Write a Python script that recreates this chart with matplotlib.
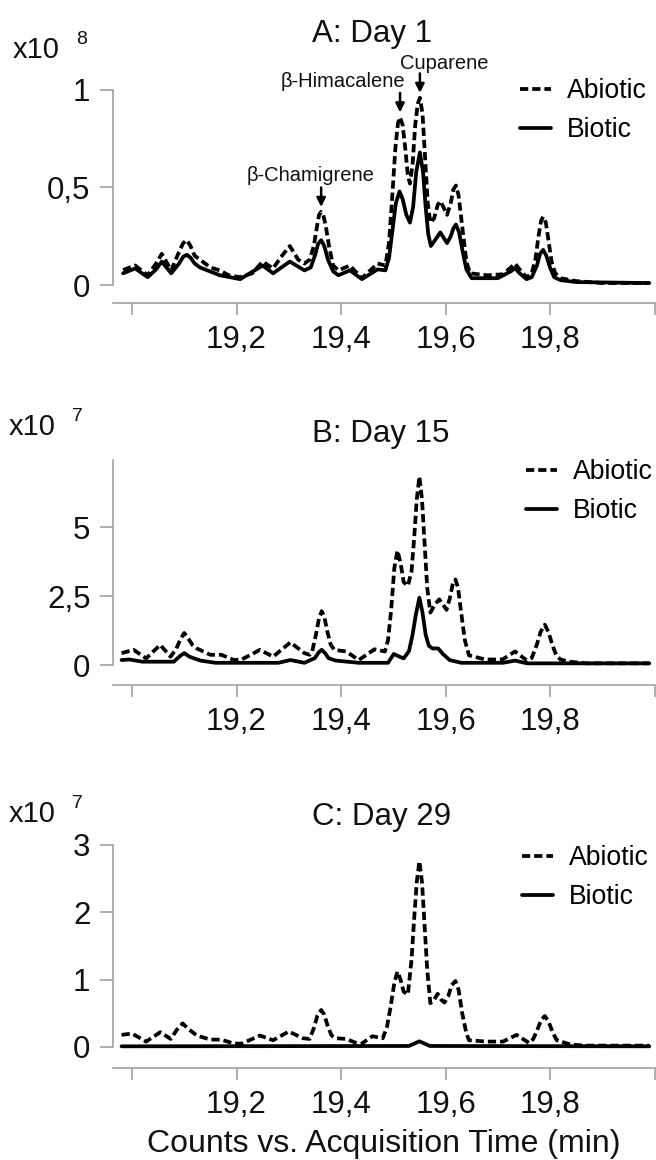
import matplotlib
matplotlib.use("Agg")
import matplotlib.pyplot as plt

plt.rcParams['font.family'] = ['Liberation Sans', 'DejaVu Sans']

# ---------------- data (retention time [min], counts in panel units) ----------------
A_abiotic = [(18.983, 0.077), (19.006, 0.10), (19.03, 0.05), (19.046, 0.11), (19.057, 0.16),
             (19.075, 0.075), (19.09, 0.17), (19.098, 0.215), (19.105, 0.23), (19.112, 0.2),
             (19.12, 0.15), (19.13, 0.13), (19.15, 0.09), (19.168, 0.075), (19.185, 0.05),
             (19.207, 0.04), (19.23, 0.06), (19.25, 0.12), (19.27, 0.085), (19.287, 0.15),
             (19.302, 0.20), (19.318, 0.13), (19.33, 0.11), (19.34, 0.13), (19.348, 0.20),
             (19.354, 0.30), (19.358, 0.36), (19.362, 0.375), (19.366, 0.36), (19.371, 0.30),
             (19.377, 0.20), (19.385, 0.10), (19.395, 0.075), (19.417, 0.10), (19.44, 0.035),
             (19.47, 0.11), (19.485, 0.10), (19.492, 0.22), (19.498, 0.45), (19.504, 0.70),
             (19.509, 0.83), (19.513, 0.86), (19.518, 0.82), (19.523, 0.70), (19.528, 0.56),
             (19.532, 0.52), (19.537, 0.62), (19.542, 0.82), (19.547, 0.93), (19.551, 0.96),
             (19.556, 0.88), (19.561, 0.65), (19.566, 0.42), (19.571, 0.32), (19.578, 0.34),
             (19.585, 0.41), (19.59, 0.43), (19.596, 0.40), (19.603, 0.36), (19.61, 0.42),
             (19.615, 0.49), (19.62, 0.51), (19.625, 0.46), (19.632, 0.30), (19.64, 0.12),
             (19.647, 0.06), (19.68, 0.05), (19.71, 0.055), (19.725, 0.09), (19.733, 0.11),
             (19.742, 0.08), (19.755, 0.04), (19.765, 0.06), (19.772, 0.13), (19.778, 0.25),
             (19.783, 0.33), (19.787, 0.35), (19.792, 0.32), (19.797, 0.23), (19.803, 0.12),
             (19.81, 0.06), (19.82, 0.035), (19.85, 0.02), (19.9, 0.01), (19.99, 0.01)]
A_biotic = [(18.983, 0.06), (19.006, 0.085), (19.03, 0.04), (19.046, 0.08), (19.057, 0.12),
            (19.075, 0.06), (19.09, 0.11), (19.098, 0.145), (19.105, 0.155), (19.112, 0.14),
            (19.12, 0.11), (19.13, 0.09), (19.168, 0.05), (19.207, 0.03), (19.25, 0.10),
            (19.27, 0.06), (19.302, 0.12), (19.33, 0.075), (19.342, 0.09), (19.35, 0.15),
            (19.356, 0.21), (19.362, 0.23), (19.368, 0.20), (19.375, 0.13), (19.385, 0.07),
            (19.395, 0.05), (19.417, 0.075), (19.44, 0.03), (19.47, 0.08), (19.485, 0.075),
            (19.492, 0.14), (19.498, 0.27), (19.505, 0.42), (19.512, 0.48), (19.518, 0.44),
            (19.525, 0.36), (19.532, 0.32), (19.538, 0.40), (19.544, 0.58), (19.551, 0.68),
            (19.557, 0.58), (19.562, 0.40), (19.567, 0.26), (19.572, 0.20), (19.58, 0.23),
            (19.59, 0.27), (19.597, 0.24), (19.603, 0.215), (19.61, 0.25), (19.615, 0.29),
            (19.62, 0.31), (19.626, 0.27), (19.633, 0.17), (19.64, 0.08), (19.65, 0.035),
            (19.70, 0.035), (19.725, 0.07), (19.733, 0.087), (19.742, 0.06), (19.755, 0.03),
            (19.765, 0.04), (19.775, 0.10), (19.781, 0.16), (19.787, 0.18), (19.793, 0.15),
            (19.80, 0.09), (19.808, 0.04), (19.82, 0.025), (19.85, 0.015), (19.99, 0.01)]

B_abiotic = [(18.98, 0.43), (19.003, 0.55), (19.027, 0.24), (19.054, 0.73), (19.074, 0.30),
             (19.085, 0.60), (19.093, 0.95), (19.10, 1.16), (19.108, 0.95), (19.116, 0.72),
             (19.124, 0.60), (19.15, 0.37), (19.171, 0.37), (19.195, 0.18), (19.21, 0.20),
             (19.245, 0.55), (19.27, 0.30), (19.303, 0.82), (19.33, 0.43), (19.34, 0.37),
             (19.345, 0.50), (19.352, 1.10), (19.358, 1.70), (19.363, 1.95), (19.368, 1.75),
             (19.374, 1.20), (19.38, 0.75), (19.387, 0.55), (19.41, 0.49), (19.434, 0.18),
             (19.464, 0.57), (19.484, 0.49), (19.49, 0.90), (19.496, 2.00), (19.502, 3.50),
             (19.508, 4.15), (19.514, 3.70), (19.52, 3.00), (19.528, 2.87), (19.535, 3.40),
             (19.54, 4.60), (19.545, 6.00), (19.55, 6.83), (19.555, 6.00), (19.56, 4.40),
             (19.565, 2.80), (19.571, 1.90), (19.58, 2.20), (19.588, 2.38), (19.595, 2.20),
             (19.602, 2.00), (19.608, 2.40), (19.614, 2.95), (19.619, 3.10), (19.624, 2.80),
             (19.63, 1.90), (19.637, 0.90), (19.645, 0.35), (19.676, 0.20), (19.709, 0.20),
             (19.733, 0.49), (19.756, 0.16), (19.765, 0.25), (19.775, 0.75), (19.782, 1.20),
             (19.79, 1.46), (19.797, 1.20), (19.805, 0.70), (19.812, 0.35), (19.82, 0.20),
             (19.837, 0.12), (19.87, 0.06), (19.99, 0.06)]
B_biotic = [(18.98, 0.18), (18.995, 0.20), (19.02, 0.12), (19.08, 0.12), (19.092, 0.33),
            (19.10, 0.43), (19.11, 0.30), (19.131, 0.16), (19.16, 0.08), (19.28, 0.08),
            (19.303, 0.18), (19.33, 0.08), (19.35, 0.25), (19.357, 0.45), (19.363, 0.55),
            (19.37, 0.42), (19.376, 0.25), (19.39, 0.16), (19.434, 0.08), (19.49, 0.08),
            (19.501, 0.40), (19.512, 0.30), (19.52, 0.24), (19.53, 0.50), (19.537, 1.10),
            (19.543, 1.80), (19.55, 2.44), (19.556, 1.90), (19.562, 1.10), (19.568, 0.70),
            (19.575, 0.60), (19.586, 0.60), (19.595, 0.40), (19.608, 0.18), (19.63, 0.08),
            (19.71, 0.08), (19.733, 0.16), (19.756, 0.06), (19.99, 0.06)]

C_abiotic = [(18.98, 0.18), (19.0, 0.20), (19.027, 0.08), (19.054, 0.22), (19.074, 0.12),
             (19.088, 0.28), (19.097, 0.35), (19.106, 0.28), (19.124, 0.17), (19.15, 0.11),
             (19.171, 0.11), (19.195, 0.05), (19.21, 0.05), (19.245, 0.17), (19.27, 0.10),
             (19.30, 0.23), (19.327, 0.13), (19.34, 0.12), (19.348, 0.28), (19.355, 0.47),
             (19.362, 0.55), (19.368, 0.48), (19.375, 0.30), (19.382, 0.17), (19.39, 0.13),
             (19.41, 0.12), (19.437, 0.035), (19.46, 0.16), (19.48, 0.13), (19.488, 0.30),
             (19.495, 0.60), (19.502, 0.95), (19.508, 1.12), (19.514, 1.00), (19.52, 0.82),
             (19.528, 0.78), (19.535, 1.30), (19.54, 1.90), (19.545, 2.45), (19.55, 2.76),
             (19.555, 2.45), (19.56, 1.80), (19.565, 1.15), (19.571, 0.65), (19.578, 0.70),
             (19.585, 0.79), (19.592, 0.70), (19.598, 0.66), (19.605, 0.75), (19.612, 0.92),
             (19.619, 0.98), (19.625, 0.85), (19.632, 0.50), (19.64, 0.20), (19.645, 0.10),
             (19.68, 0.08), (19.71, 0.08), (19.736, 0.18), (19.76, 0.06), (19.768, 0.12),
             (19.775, 0.24), (19.783, 0.40), (19.79, 0.46), (19.797, 0.38), (19.805, 0.22),
             (19.813, 0.10), (19.84, 0.035), (19.87, 0.02), (19.99, 0.02)]
C_biotic = [(18.98, 0.01), (19.53, 0.015), (19.54, 0.05), (19.55, 0.084), (19.56, 0.05),
            (19.57, 0.015), (19.99, 0.01)]

titles = ["A: Day 1", "B: Day 15", "C: Day 29"]
exponents = ["8", "7", "7"]
y_ticks = [[0, 0.5, 1], [0, 2.5, 5], [0, 1, 2, 3]]
x_ticks = [19.0, 19.2, 19.4, 19.6, 19.8, 20.0]
x_ticklabels = ["", "19,2", "19,4", "19,6", "19,8", ""]
series_labels = ["Abiotic", "Biotic"]
peaks_A = [("β-Chamigrene", 19.362), ("β-Himacalene", 19.513), ("Cuparene", 19.551)]
x_label = "Counts vs. Acquisition Time (min)"

# ---------------- layout (pixels) ----------------
W, H = 656, 1160
fig = plt.figure(figsize=(W / 100, H / 100), dpi=100)
GRAY = "#9a9a9a"
INK = "#111111"

def add_ax(left, top, right, bottom):
    return fig.add_axes([left / W, 1 - bottom / H, (right - left) / W, (bottom - top) / H])

panels = [
    dict(data=(A_abiotic, A_biotic), box=(113.2, 60, 654.5, 303), ylim=(-0.0923, 1.1538),
         ybounds=(0, 1), title_xy=(312, 42), exp_xy=(13, 58), leg=(520, 78)),
    dict(data=(B_abiotic, B_biotic), box=(113.2, 460, 654.5, 685), ylim=(-0.7246, 7.43),
         ybounds=(0, 7.43), title_xy=(312, 442), exp_xy=(9, 435), leg=(526, 459)),
    dict(data=(C_abiotic, C_biotic), box=(113.2, 845, 654.5, 1068), ylim=(-0.312, 3.0),
         ybounds=(0, 3), title_xy=(312, 825), exp_xy=(9, 822), leg=(522, 845)),
]

axes = []
for i, p in enumerate(panels):
    ax = add_ax(*p["box"])
    axes.append(ax)
    ab, bi = p["data"]
    ax.plot([t for t, v in ab], [v for t, v in ab], color="black", lw=2.7,
            linestyle=(0, (2.2, 1.05)), label=series_labels[0], dash_joinstyle="round")
    ax.plot([t for t, v in bi], [v for t, v in bi], color="black", lw=2.7,
            label=series_labels[1], solid_joinstyle="round", solid_capstyle="round")
    ax.set_xlim(18.964, 20.0)
    ax.set_ylim(*p["ylim"])
    for s in ("top", "right"):
        ax.spines[s].set_visible(False)
    for s in ("left", "bottom"):
        ax.spines[s].set_color(GRAY)
        ax.spines[s].set_linewidth(1.1)
    ax.spines["left"].set_bounds(*p["ybounds"])
    ax.set_yticks(y_ticks[i], labels=[f"{v:g}".replace(".", ",") for v in y_ticks[i]])
    ax.set_xticks(x_ticks, labels=x_ticklabels)
    ax.tick_params(axis="both", direction="out", color=GRAY, width=1.1, labelsize=22.5,
                   labelcolor=INK)
    ax.tick_params(axis="y", length=9.4, pad=7)
    ax.tick_params(axis="x", length=8.6, pad=7)
    # title and scale factor
    tx, ty = p["title_xy"]
    fig.text(tx / W, 1 - ty / H, titles[i], fontsize=22.5, ha="left", va="baseline", color=INK)
    ex, ey = p["exp_xy"]
    fig.text(ex / W, 1 - ey / H, "x10", fontsize=21, ha="left", va="baseline", color=INK)
    fig.text((ex + 63) / W, 1 - (ey - 14) / H, exponents[i], fontsize=14, ha="left",
             va="baseline", color=INK)
    lx, ly = p["leg"]
    ax.legend(loc="upper left", bbox_to_anchor=(lx / W, 1 - ly / H),
              bbox_transform=fig.transFigure, frameon=False, fontsize=19.2,
              handlelength=1.15, handletextpad=0.6, labelspacing=0.5, borderpad=0,
              borderaxespad=0)

axes[2].set_xlabel(x_label, fontsize=23, labelpad=7, color=INK)

# peak annotations in panel A
axA = axes[0]
text_pos = {"β-Chamigrene": (19.341, 0.564, "center"),
            "β-Himacalene": (19.404, 1.041, "center"),
            "Cuparene": (19.513, 1.138, "left")}
for name, rt in peaks_A:
    top = max(v for t, v in A_abiotic if abs(t - rt) < 0.006)
    tip = top + 0.025
    axA.annotate("", xy=(rt, tip), xytext=(rt, tip + 0.1),
                 arrowprops=dict(arrowstyle="-|>", color="black", lw=1.8,
                                 mutation_scale=13, shrinkA=0, shrinkB=0))
    x, y, ha = text_pos[name]
    axA.text(x, y, name, fontsize=14.5, ha=ha, va="center", color=INK)

fig.savefig("out.png", dpi=100)
